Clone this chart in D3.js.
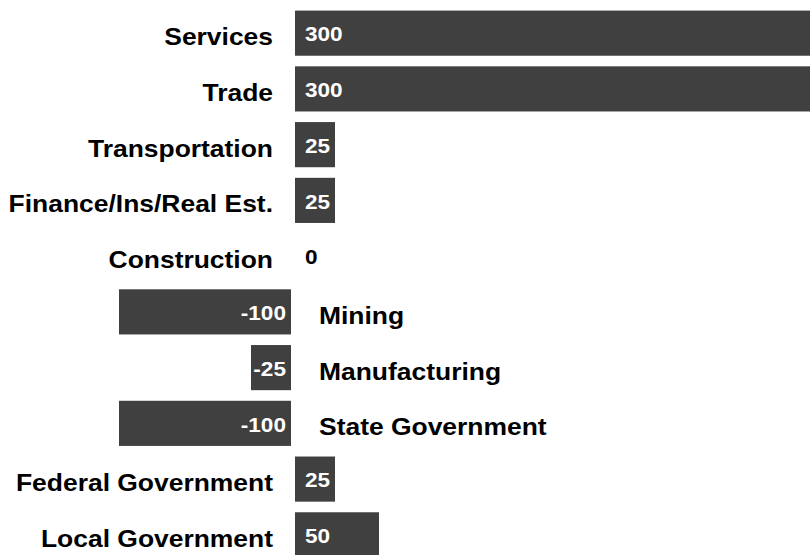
<!DOCTYPE html>
<html>
<head>
<meta charset="utf-8">
<script src="https://cdn.jsdelivr.net/npm/d3@7"></script>
<style>
  body { margin: 0; background: #fff; }
  svg { display: block; font-family: "Liberation Sans", Arial, sans-serif; }
</style>
</head>
<body>
<script>
const categories = ["Services", "Trade", "Transportation", "Finance/Ins/Real Est.", "Construction",
                    "Mining", "Manufacturing", "State Government", "Federal Government", "Local Government"];
const values = [300, 300, 25, 25, 0, -100, -25, -100, 25, 50];

const width = 810, height = 555;

const svg = d3.select("body").append("svg")
    .attr("width", width)
    .attr("height", height);

const x = d3.scaleLinear()
    .domain([-100, 300])
    .range([117, 821]);

const y = d3.scaleBand()
    .domain(categories)
    .range([0, 568])
    .padding(0.19);

const data = categories.map((c, i) => ({cat: c, val: values[i]}));
const x0 = x(0);
const mid = y.bandwidth() / 2;

const row = svg.selectAll("g.row")
  .data(data)
  .enter().append("g")
    .attr("class", "row")
    .attr("transform", d => `translate(0,${y(d.cat)})`);

row.filter(d => d.val !== 0).append("rect")
    .attr("x", d => d.val > 0 ? x0 + 2 : x(d.val) + 2)
    .attr("width", d => Math.abs(x(d.val) - x0) - 4)
    .attr("height", y.bandwidth())
    .attr("fill", "#404040");

// category labels (font is drawn a bit wide, like the original)
row.append("text")
    .attr("transform", d => `translate(${d.val >= 0 ? x0 - 20 : x0 + 26},${mid + 12})scale(1.15,1)`)
    .attr("text-anchor", d => d.val >= 0 ? "end" : "start")
    .style("font-size", "23px")
    .style("font-weight", "bold")
    .attr("fill", "#000")
    .text(d => d.cat);

// value labels
row.append("text")
    .attr("transform", d => `translate(${d.val >= 0 ? x0 + 12 : x0 - 7},${mid + 8.3})scale(1.13,1)`)
    .attr("text-anchor", d => d.val >= 0 ? "start" : "end")
    .style("font-size", "20px")
    .style("font-weight", "bold")
    .attr("fill", d => d.val === 0 ? "#000" : "#fff")
    .text(d => d.val);
</script>
</body>
</html>
